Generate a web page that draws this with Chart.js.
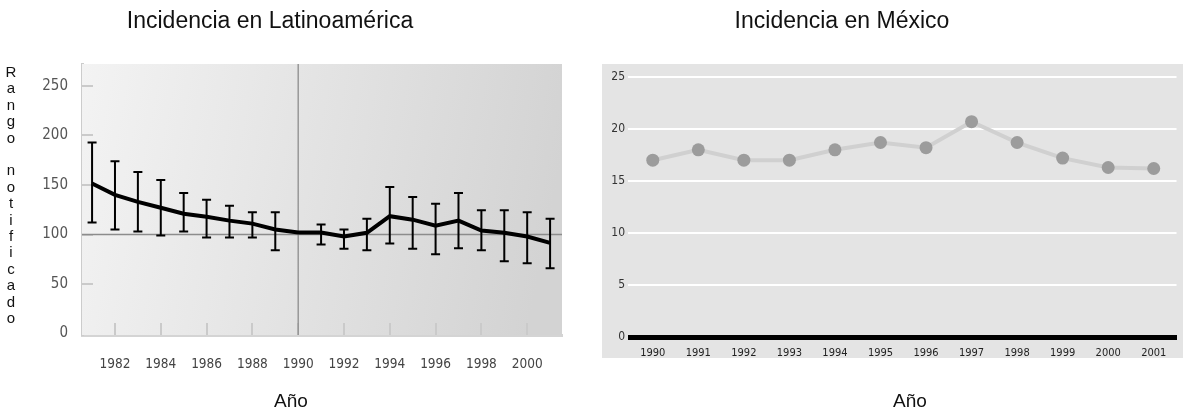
<!DOCTYPE html>
<html>
<head>
<meta charset="utf-8">
<script src="https://cdn.jsdelivr.net/npm/chart.js@4/dist/chart.umd.min.js"></script>
<style>
  html, body { margin: 0; padding: 0; background: #fff; width: 1183px; height: 408px; overflow: hidden; }
  .txt { position: absolute; font-family: "Liberation Sans", Arial, sans-serif; color: #111; white-space: nowrap; }
  #c1 { position: absolute; left: 0; top: 0; }
  #c2 { position: absolute; left: 590px; top: 0; }
</style>
</head>
<body>
<canvas id="c1" width="590" height="408"></canvas>
<canvas id="c2" width="593" height="408"></canvas>
<div class="txt" style="left:70px;width:400px;text-align:center;top:8.5px;font-size:23px;line-height:23px;">Incidencia en Latinoamérica</div>
<div class="txt" style="left:642px;width:400px;text-align:center;top:8.5px;font-size:23px;line-height:23px;">Incidencia en México</div>
<div class="txt" style="left:241px;width:100px;text-align:center;top:391px;font-size:19px;line-height:19px;">Año</div>
<div class="txt" style="left:860px;width:100px;text-align:center;top:391px;font-size:19px;line-height:19px;">Año</div>
<div class="txt" id="ytitle" style="left:0px;width:22px;text-align:center;top:64px;font-size:15px;line-height:16.4px;white-space:normal;"></div>
<script>
// ---------- data ----------
const latYears = [1981,1982,1983,1984,1985,1986,1987,1988,1989,1990,1991,1992,1993,1994,1995,1996,1997,1998,1999,2000,2001];
const latValues = [151.5,140,133,127,121,118,114,111,105,102,102,98,101.7,118.5,115,109,114,104,101.7,98,91.5];
const latHigh = [193,174,163,155,142,135,129,122.5,122.5,null,110,105,116,148,138,131,142,124.5,124.5,122.5,116];
const latLow  = [112,105,103,99,103,97,97,97,84,null,90,85.5,84,91,85.5,80,86,84,73,71,66];
const latXTicks = [1982,1984,1986,1988,1990,1992,1994,1996,1998,2000];
const latYTicks = [0,50,100,150,200,250];
const latRefValue = 100;
const latRefYear = 1990;

const mxYears = ["1990","1991","1992","1993","1994","1995","1996","1997","1998","1999","2000","2001"];
const mxValues = [17.0,18.0,17.0,17.0,18.0,18.7,18.2,20.7,18.7,17.2,16.3,16.2];

const yTitle = "Rango notificado";

// vertical stacked axis title
document.getElementById('ytitle').innerHTML =
  yTitle.split('').map(ch => ch === ' ' ? '&nbsp;' : ch).join('<br>');

const narrow = '"Liberation Sans Narrow", "DejaVu Sans Condensed", "Arial Narrow", sans-serif';

// ---------- left chart ----------
const leftPlugin = {
  id: 'leftDecor',
  beforeDatasetsDraw(chart) {
    const {ctx, chartArea: a, scales: {x, y}} = chart;
    ctx.save();
    const g = ctx.createLinearGradient(a.left, a.top, a.right, a.top + (a.bottom - a.top) * 0.35);
    g.addColorStop(0, '#f3f3f3');
    g.addColorStop(1, '#d3d3d3');
    ctx.fillStyle = g;
    ctx.fillRect(a.left, a.top, a.right - a.left, a.bottom - a.top);
    ctx.strokeStyle = '#cacaca';
    ctx.lineWidth = 2;
    latXTicks.forEach(v => {
      const px = Math.round(x.getPixelForValue(v));
      ctx.beginPath(); ctx.moveTo(px, a.bottom); ctx.lineTo(px, a.bottom - 12); ctx.stroke();
    });
    latYTicks.forEach(v => {
      if (v === 0) return;
      const py = Math.round(y.getPixelForValue(v));
      ctx.beginPath(); ctx.moveTo(a.left, py); ctx.lineTo(a.left + 11, py); ctx.stroke();
    });
    ctx.strokeStyle = '#8c8c8c';
    ctx.lineWidth = 1.3;
    const ry = y.getPixelForValue(latRefValue);
    ctx.beginPath(); ctx.moveTo(a.left, ry); ctx.lineTo(a.right, ry); ctx.stroke();
    const rx = x.getPixelForValue(latRefYear);
    ctx.beginPath(); ctx.moveTo(rx, a.top); ctx.lineTo(rx, a.bottom); ctx.stroke();
    ctx.restore();
  },
  afterDatasetsDraw(chart) {
    const {ctx, scales: {x, y}} = chart;
    ctx.save();
    ctx.strokeStyle = '#000';
    ctx.lineWidth = 2;
    latYears.forEach((yr, i) => {
      if (latHigh[i] == null || latLow[i] == null) return;
      const px = x.getPixelForValue(yr);
      const ph = y.getPixelForValue(latHigh[i]);
      const pl = y.getPixelForValue(latLow[i]);
      ctx.beginPath();
      ctx.moveTo(px, ph); ctx.lineTo(px, pl);
      ctx.moveTo(px - 4.5, ph); ctx.lineTo(px + 4.5, ph);
      ctx.moveTo(px - 4.5, pl); ctx.lineTo(px + 4.5, pl);
      ctx.stroke();
    });
    ctx.restore();
  }
};

new Chart(document.getElementById('c1'), {
  type: 'line',
  data: {
    datasets: [{
      data: latYears.map((yr, i) => ({x: yr, y: latValues[i]})),
      borderColor: '#000',
      borderWidth: 4,
      pointRadius: 0,
      tension: 0,
      fill: false
    }]
  },
  options: {
    responsive: false,
    animation: false,
    devicePixelRatio: 1,
    layout: { padding: { left: 0, top: 64, right: 28, bottom: 20 } },
    plugins: { legend: { display: false }, tooltip: { enabled: false } },
    scales: {
      x: {
        type: 'linear',
        min: 1980.56,
        max: 2001.52,
        afterBuildTicks: s => { s.ticks = latXTicks.map(v => ({value: v})); },
        afterFit: s => { s.height = 53; },
        grid: { display: false, drawTicks: false },
        border: { color: '#d4d4d4', width: 3 },
        ticks: { color: '#444', font: { family: narrow, size: 13.5 }, padding: 21, maxRotation: 0, autoSkip: false, callback: v => String(v) }
      },
      y: {
        min: -1.5,
        max: 272.2,
        afterBuildTicks: s => { s.ticks = latYTicks.map(v => ({value: v})); },
        afterFit: s => { s.width = 82; },
        grid: { display: false, drawTicks: false },
        border: { color: '#cccccc', width: 3 },
        ticks: { color: '#555', font: { family: narrow, size: 15 }, padding: 14, callback: v => String(v) }
      }
    }
  },
  plugins: [leftPlugin]
});

// ---------- right chart ----------
const rightPlugin = {
  id: 'rightBg',
  beforeDraw(chart) {
    const {ctx, width} = chart;
    ctx.save();
    ctx.fillStyle = '#e4e4e4';
    ctx.fillRect(12, 64, width - 12, 358 - 64);
    ctx.restore();
  }
};

new Chart(document.getElementById('c2'), {
  type: 'line',
  data: {
    labels: mxYears,
    datasets: [{
      data: mxValues,
      borderColor: '#d0d0d0',
      borderWidth: 4,
      pointRadius: 6.5,
      pointHoverRadius: 6.5,
      pointBackgroundColor: '#9c9c9c',
      pointBorderWidth: 0,
      tension: 0,
      fill: false
    }]
  },
  options: {
    responsive: false,
    animation: false,
    devicePixelRatio: 1,
    layout: { padding: { left: 0, top: 77, right: 0, bottom: 40 } },
    plugins: { legend: { display: false }, tooltip: { enabled: false } },
    scales: {
      x: {
        type: 'category',
        offset: true,
        afterFit: s => { s.height = 31; },
        grid: { display: false, drawTicks: false },
        border: { color: '#000', width: 5 },
        ticks: { color: '#222', font: { family: narrow, size: 11 }, padding: 10, maxRotation: 0, autoSkip: false }
      },
      y: {
        min: 0,
        max: 25,
        afterFit: s => { s.width = 40; },
        grid: { color: '#ffffff', lineWidth: 2, drawTicks: true, tickLength: 2, tickColor: '#ffffff' },
        border: { display: false },
        ticks: { stepSize: 5, color: '#333', font: { family: narrow, size: 12 }, padding: 3 }
      }
    }
  },
  plugins: [rightPlugin]
});
</script>
</body>
</html>
